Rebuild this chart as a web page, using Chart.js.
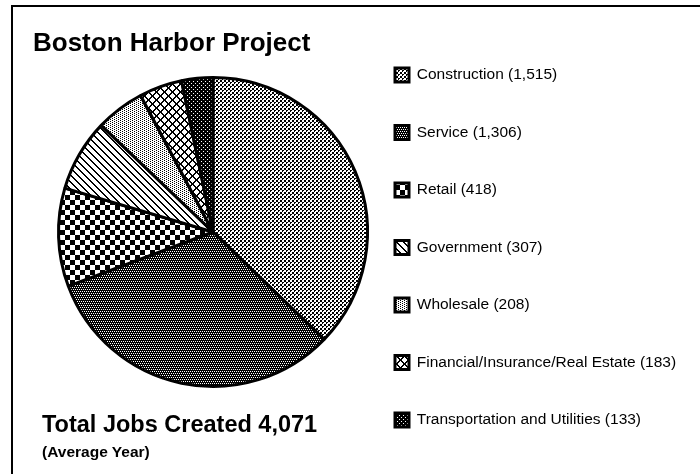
<!DOCTYPE html>
<html>
<head>
<meta charset="utf-8">
<script src="https://cdn.jsdelivr.net/npm/chart.js@4.4.1/dist/chart.umd.min.js"></script>
<style>
  html, body { margin: 0; padding: 0; background: #fff; width: 700px; height: 474px; overflow: hidden; }
  #frame { position: absolute; left: 11px; top: 5px; width: 760px; height: 540px; border: 2.5px solid #000; box-sizing: border-box; }
  #c { position: absolute; left: 0; top: 0; }
  .t { position: absolute; font-family: 'Liberation Sans', Arial, Helvetica, sans-serif; font-weight: bold; color: #000; white-space: nowrap; }
  #title { left: 33px; top: 29px; font-size: 26px; line-height: 26px; }
  #total { left: 42px; top: 413px; font-size: 23.5px; line-height: 23.5px; }
  #avg { left: 42px; top: 444px; font-size: 15.5px; line-height: 15.5px; }
</style>
</head>
<body>
<div id="frame"></div>
<canvas id="c" width="700" height="474"></canvas>
<div class="t" id="title">Boston Harbor Project</div>
<div class="t" id="total">Total Jobs Created 4,071</div>
<div class="t" id="avg">(Average Year)</div>
<script>
// ---- data ----
const categories = [
  'Construction',
  'Service',
  'Retail',
  'Government',
  'Wholesale',
  'Financial/Insurance/Real Estate',
  'Transportation and Utilities'
];
const jobs = [1515, 1306, 418, 307, 208, 183, 133];

// ---- helpers ----
function fmt(n) { return String(n).replace(/\B(?=(\d{3})+(?!\d))/g, ','); }
const legendLabels = categories.map((c, i) => c + ' (' + fmt(jobs[i]) + ')');

function makePattern(w, h, base, paint) {
  const c = document.createElement('canvas');
  c.width = w; c.height = h;
  const x = c.getContext('2d');
  x.fillStyle = base; x.fillRect(0, 0, w, h);
  paint(x);
  return x.createPattern(c, 'repeat');
}
function px(x, list, color) { x.fillStyle = color; list.forEach(p => x.fillRect(p[0], p[1], 1, 1)); }

const patterns = [
  // Construction: light fine stipple
  makePattern(4, 4, '#fff', x => px(x, [[0,0],[1,0],[0,1],[2,2],[3,2],[2,3],[1,1]], '#000')),
  // Service: darker fine stipple
  makePattern(4, 4, '#000', x => px(x, [[1,1],[3,1],[0,3],[2,3]], '#fff')),
  // Retail: coarse checkerboard
  makePattern(10, 10, '#fff', x => { x.fillStyle = '#000'; x.fillRect(0, 0, 5, 5); x.fillRect(5, 5, 5, 5); }),
  // Government: diagonal stripes
  makePattern(7, 7, '#fff', x => { const l = []; for (let i = 0; i < 7; i++) { l.push([i, i]); l.push([(i + 1) % 7, i]); } px(x, l, '#000'); }),
  // Wholesale: light dots
  makePattern(4, 4, '#fff', x => px(x, [[0,0],[2,1],[0,2],[2,3]], '#000')),
  // Financial: diagonal cross-hatch
  makePattern(8, 8, '#fff', x => { const l = []; for (let i = 0; i < 8; i++) { l.push([i, i]); l.push([(i + 1) % 8, i]); l.push([7 - i, i]); l.push([(8 - i) % 8, i]); } px(x, l, '#000'); }),
  // Transportation: near black
  makePattern(4, 4, '#000', x => px(x, [[1,1],[3,3]], '#fff'))
];

// ---- layout constants ----
const FONT = 15.5, BOX = 14;
const LEGEND_BOX_X = 395, LEGEND_FIRST_Y = 75, LEGEND_STEP = 57.5;
const PAD = LEGEND_STEP - FONT;
const PIE_CX = 213, PIE_CY = 232, PIE_R = 156;

const placement = {
  id: 'placement',
  afterLayout(chart) {
    const lg = chart.legend;
    if (lg) {
      const w = lg.width;
      lg.left = LEGEND_BOX_X - PAD;
      lg.right = lg.left + w;
      lg.top = LEGEND_FIRST_Y - PAD - FONT / 2;
      lg.bottom = chart.height;
      lg.height = lg.bottom - lg.top;
    }
    chart.chartArea = {
      left: PIE_CX - PIE_R, top: PIE_CY - PIE_R,
      right: PIE_CX + PIE_R, bottom: PIE_CY + PIE_R,
      width: 2 * PIE_R, height: 2 * PIE_R
    };
  }
};

new Chart(document.getElementById('c'), {
  type: 'pie',
  data: {
    labels: legendLabels,
    datasets: [{
      data: jobs,
      backgroundColor: patterns,
      hoverBackgroundColor: patterns,
      borderColor: '#000',
      hoverBorderColor: '#000',
      borderWidth: 3,
      hoverBorderWidth: 3,
      hoverOffset: 0,
      offset: 0
    }]
  },
  options: {
    responsive: false,
    animation: false,
    events: [],
    layout: { padding: 0 },
    plugins: {
      title: { display: false },
      tooltip: { enabled: false },
      legend: {
        position: 'right',
        align: 'start',
        labels: {
          color: '#000',
          boxWidth: BOX,
          boxHeight: BOX,
          padding: PAD,
          font: { family: "'Liberation Sans', Arial, Helvetica, sans-serif", size: FONT }
        }
      }
    }
  },
  plugins: [placement]
});
</script>
</body>
</html>
